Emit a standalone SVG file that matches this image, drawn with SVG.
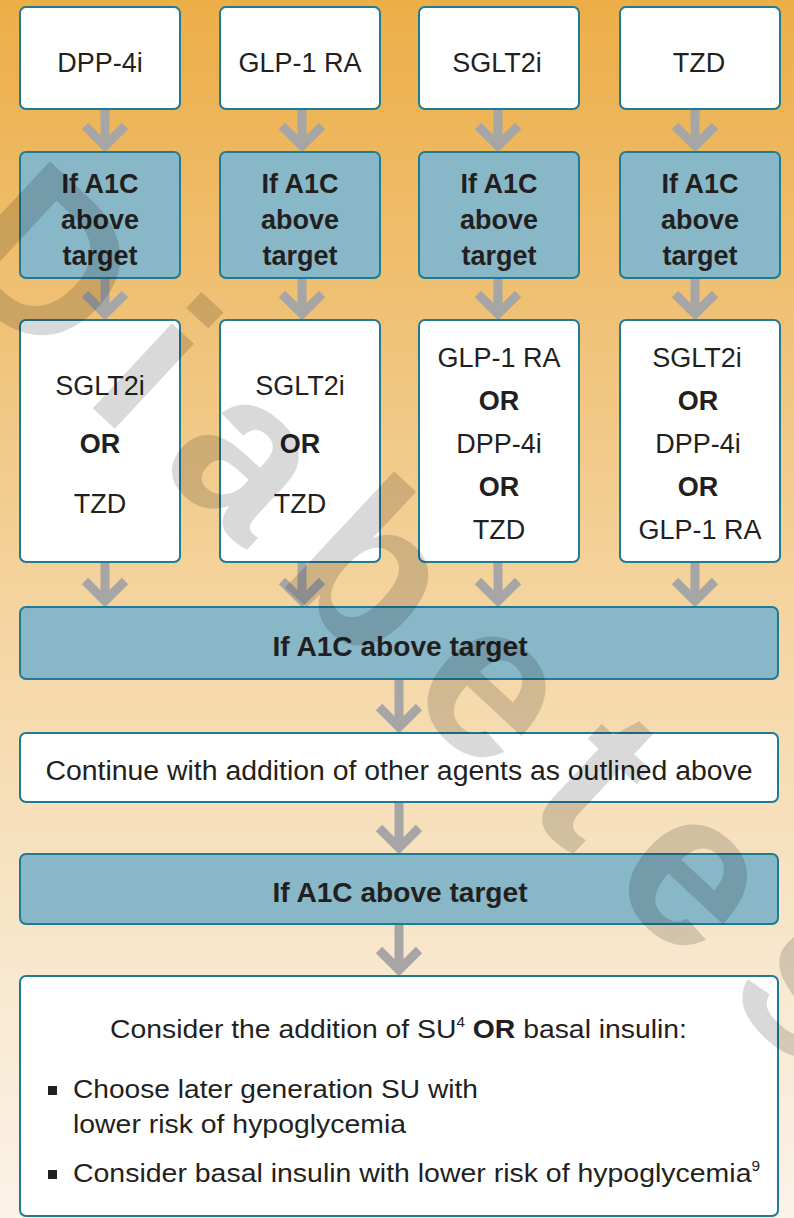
<svg xmlns="http://www.w3.org/2000/svg" width="794" height="1218" viewBox="0 0 794 1218">
  <defs>
    <linearGradient id="bg" x1="0" y1="0" x2="0" y2="1">
      <stop offset="0" stop-color="#ECAE47"/>
      <stop offset="0.28" stop-color="#F0C37A"/>
      <stop offset="0.55" stop-color="#F5D8A8"/>
      <stop offset="0.8" stop-color="#F8E8CF"/>
      <stop offset="1" stop-color="#FBF3E7"/>
    </linearGradient>
    <style>
      .box { stroke: #1F7A94; stroke-width: 2; }
      .white { fill: #FFFFFF; }
      .blue { fill: #88B7C7; }
      .arrow { fill: none; stroke: #A6A6A6; stroke-width: 9; stroke-linecap: butt; stroke-linejoin: miter; stroke-miterlimit: 4; }
      text { font-family: "Liberation Sans", Arial, Helvetica, sans-serif; fill: #231F20; }
      .lbl { font-size: 27px; text-anchor: middle; }
      .b { font-weight: bold; }
      .body { font-size: 26px; }
      .mark { font-family: "Liberation Sans", Arial, sans-serif; font-weight: bold; font-size: 220px; letter-spacing: 40px; fill: #000000; fill-opacity: 0.15; }
    </style>
  </defs>

  <!-- background -->
  <rect x="0" y="0" width="794" height="1218" fill="url(#bg)"/>

  <!-- connectors -->
  <g id="connectors">
    <!-- row 1 to row 2 -->
    <path class="arrow" d="M105 110 V146 M85 126 L105 146 L125 126"/>
    <path class="arrow" d="M302 110 V146 M282 126 L302 146 L322 126"/>
    <path class="arrow" d="M498 110 V146 M478 126 L498 146 L518 126"/>
    <path class="arrow" d="M695 110 V146 M675 126 L695 146 L715 126"/>
    <!-- row 2 to row 3 -->
    <path class="arrow" d="M105 279 V314 M85 294 L105 314 L125 294"/>
    <path class="arrow" d="M302 279 V314 M282 294 L302 314 L322 294"/>
    <path class="arrow" d="M498 279 V314 M478 294 L498 314 L518 294"/>
    <path class="arrow" d="M695 279 V314 M675 294 L695 314 L715 294"/>
    <!-- row 3 to first wide check -->
    <path class="arrow" d="M105 563 V601 M85 581 L105 601 L125 581"/>
    <path class="arrow" d="M302 563 V601 M282 581 L302 601 L322 581"/>
    <path class="arrow" d="M498 563 V601 M478 581 L498 601 L518 581"/>
    <path class="arrow" d="M695 563 V601 M675 581 L695 601 L715 581"/>
    <!-- central column -->
    <path class="arrow" d="M399 680 V727 M379 707 L399 727 L419 707"/>
    <path class="arrow" d="M399 803 V848 M379 828 L399 848 L419 828"/>
    <path class="arrow" d="M399 925 V970 M379 950 L399 970 L419 950"/>
  </g>

  <!-- first-line agents -->
  <g id="dpp4i">
    <rect class="box white" x="20" y="7" width="160" height="102" rx="6"/>
    <text class="lbl" x="100" y="72">DPP-4i</text>
  </g>
  <g id="glp1ra">
    <rect class="box white" x="220" y="7" width="160" height="102" rx="6"/>
    <text class="lbl" x="300" y="72">GLP-1 RA</text>
  </g>
  <g id="sglt2i">
    <rect class="box white" x="419" y="7" width="160" height="102" rx="6"/>
    <text class="lbl" x="497" y="72">SGLT2i</text>
  </g>
  <g id="tzd">
    <rect class="box white" x="620" y="7" width="160" height="102" rx="6"/>
    <text class="lbl" x="699" y="72">TZD</text>
  </g>

  <!-- A1C checks per column -->
  <g id="check-1">
    <rect class="box blue" x="20" y="152" width="160" height="126" rx="6"/>
    <text class="lbl b" x="100" y="193">If A1C</text>
    <text class="lbl b" x="100" y="229">above</text>
    <text class="lbl b" x="100" y="265">target</text>
  </g>
  <g id="check-2">
    <rect class="box blue" x="220" y="152" width="160" height="126" rx="6"/>
    <text class="lbl b" x="300" y="193">If A1C</text>
    <text class="lbl b" x="300" y="229">above</text>
    <text class="lbl b" x="300" y="265">target</text>
  </g>
  <g id="check-3">
    <rect class="box blue" x="419" y="152" width="160" height="126" rx="6"/>
    <text class="lbl b" x="499" y="193">If A1C</text>
    <text class="lbl b" x="499" y="229">above</text>
    <text class="lbl b" x="499" y="265">target</text>
  </g>
  <g id="check-4">
    <rect class="box blue" x="620" y="152" width="160" height="126" rx="6"/>
    <text class="lbl b" x="700" y="193">If A1C</text>
    <text class="lbl b" x="700" y="229">above</text>
    <text class="lbl b" x="700" y="265">target</text>
  </g>

  <!-- second-line options -->
  <g id="option-1">
    <rect class="box white" x="20" y="320" width="160" height="242" rx="6"/>
    <text class="lbl" x="100" y="395">SGLT2i</text>
    <text class="lbl b" x="100" y="453">OR</text>
    <text class="lbl" x="100" y="513">TZD</text>
  </g>
  <g id="option-2">
    <rect class="box white" x="220" y="320" width="160" height="242" rx="6"/>
    <text class="lbl" x="300" y="395">SGLT2i</text>
    <text class="lbl b" x="300" y="453">OR</text>
    <text class="lbl" x="300" y="513">TZD</text>
  </g>
  <g id="option-3">
    <rect class="box white" x="419" y="320" width="160" height="242" rx="6"/>
    <text class="lbl" x="499" y="367">GLP-1 RA</text>
    <text class="lbl b" x="499" y="410">OR</text>
    <text class="lbl" x="499" y="453">DPP-4i</text>
    <text class="lbl b" x="499" y="496">OR</text>
    <text class="lbl" x="499" y="539">TZD</text>
  </g>
  <g id="option-4">
    <rect class="box white" x="620" y="320" width="160" height="242" rx="6"/>
    <text class="lbl" x="697" y="367">SGLT2i</text>
    <text class="lbl b" x="698" y="410">OR</text>
    <text class="lbl" x="698" y="453">DPP-4i</text>
    <text class="lbl b" x="698" y="496">OR</text>
    <text class="lbl" x="700" y="539">GLP-1 RA</text>
  </g>

  <!-- shared steps -->
  <g id="check-5">
    <rect class="box blue" x="20" y="607" width="758" height="72" rx="6"/>
    <text class="lbl b" x="400" y="656" textLength="255" lengthAdjust="spacingAndGlyphs">If A1C above target</text>
  </g>
  <g id="continue">
    <rect class="box white" x="20" y="733" width="758" height="69" rx="6"/>
    <text class="lbl" x="399" y="780" textLength="707" lengthAdjust="spacingAndGlyphs">Continue with addition of other agents as outlined above</text>
  </g>
  <g id="check-6">
    <rect class="box blue" x="20" y="854" width="758" height="70" rx="6"/>
    <text class="lbl b" x="400" y="902" textLength="255" lengthAdjust="spacingAndGlyphs">If A1C above target</text>
  </g>

  <!-- final recommendation -->
  <g id="su-or-insulin">
    <rect class="box white" x="20" y="976" width="758" height="240" rx="6"/>
    <text class="body" x="110" y="1038" textLength="577" lengthAdjust="spacingAndGlyphs">Consider the addition of SU<tspan font-size="14" dy="-11">4</tspan><tspan dy="11"> </tspan><tspan class="b">OR</tspan> basal insulin:</text>
    <rect x="48" y="1086" width="9" height="9" fill="#231F20"/>
    <text class="body" x="73" y="1098" textLength="405" lengthAdjust="spacingAndGlyphs">Choose later generation SU with</text>
    <text class="body" x="73" y="1133" textLength="333" lengthAdjust="spacingAndGlyphs">lower risk of hypoglycemia</text>
    <rect x="48" y="1170" width="9" height="9" fill="#231F20"/>
    <text class="body" x="73" y="1182" textLength="687" lengthAdjust="spacingAndGlyphs">Consider basal insulin with lower risk of hypoglycemia<tspan font-size="14" dy="-11">9</tspan></text>
  </g>

  <!-- diagonal watermark -->
  <text class="mark" transform="translate(-64 262) rotate(43)">Diabetes</text>
</svg>
